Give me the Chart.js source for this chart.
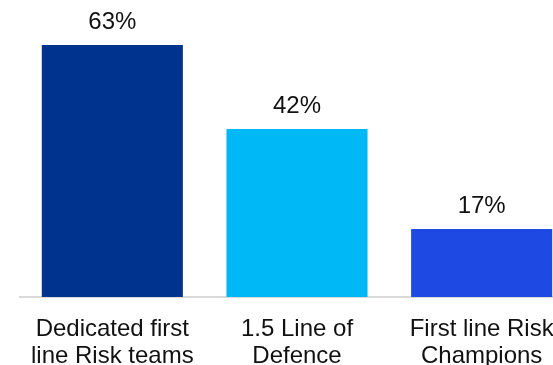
<!DOCTYPE html>
<html>
<head>
<meta charset="utf-8">
<script src="https://cdn.jsdelivr.net/npm/chart.js@4"></script>
<style>
html,body{margin:0;padding:0;background:#fff;overflow:hidden;width:553px;height:365px;}
#wrap{position:absolute;left:0;top:0;width:576px;height:365px;}
</style>
</head>
<body>
<div id="wrap"><canvas id="c" width="576" height="365"></canvas></div>
<script>
const categories = [["Dedicated first","line Risk teams"],["1.5 Line of","Defence"],["First line Risk","Champions"]];
const values = [63, 42, 17];
const barColors = ["#00338D", "#00B8F5", "#1E49E2"];

const valueLabels = {
  id: 'valueLabels',
  afterDatasetsDraw(chart) {
    const ctx = chart.ctx;
    const meta = chart.getDatasetMeta(0);
    ctx.save();
    ctx.font = '24px "Liberation Sans", Arial, sans-serif';
    ctx.fillStyle = '#111';
    ctx.textAlign = 'center';
    ctx.textBaseline = 'alphabetic';
    meta.data.forEach((bar, i) => {
      ctx.fillText(values[i] + '%', bar.x, bar.y - 16);
    });
    ctx.restore();
  }
};

new Chart(document.getElementById('c'), {
  type: 'bar',
  data: {
    labels: categories,
    datasets: [{
      data: values,
      backgroundColor: barColors,
      borderWidth: 0,
      categoryPercentage: 1,
      barPercentage: 0.764
    }]
  },
  options: {
    responsive: false,
    animation: false,
    devicePixelRatio: 1,
    layout: { padding: { left: 20, right: 2, top: 17, bottom: -24 } },
    plugins: { legend: { display: false }, tooltip: { enabled: false } },
    scales: {
      y: { display: false, min: 0, max: 70 },
      x: {
        grid: { display: false, drawTicks: false },
        border: { display: true, color: '#d9d9d9', width: 2 },
        ticks: {
          color: '#111',
          padding: 19,
          maxRotation: 0,
          autoSkip: false,
          font: { family: '"Liberation Sans", Arial, sans-serif', size: 24, lineHeight: 1.125 }
        }
      }
    }
  },
  plugins: [valueLabels]
});
</script>
</body>
</html>
